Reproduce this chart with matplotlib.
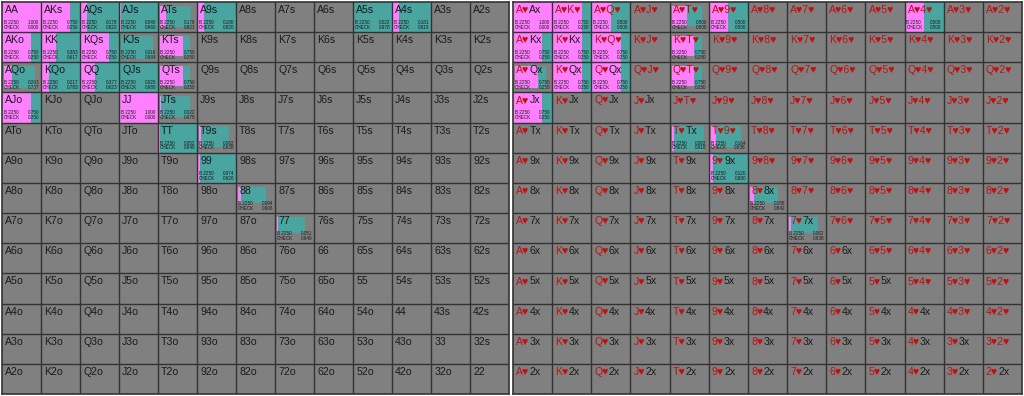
import matplotlib
matplotlib.use("Agg")
import matplotlib.pyplot as plt
from matplotlib.patches import Rectangle

plt.rcParams['font.family'] = ['Liberation Sans', 'DejaVu Sans']

ranks = ['A', 'K', 'Q', 'J', 'T', '9', '8', '7', '6', '5', '4', '3', '2']

# Left grid: active hands (row, col), bet freq, check freq, range weight
left_cells = [(0, 0), (0, 1), (0, 2), (0, 3), (0, 4), (0, 5), (0, 9), (0, 10),
              (1, 0), (1, 1), (1, 2), (1, 3), (1, 4),
              (2, 0), (2, 1), (2, 2), (2, 3), (2, 4),
              (3, 0), (3, 3), (3, 4),
              (4, 4), (4, 5), (5, 5), (6, 6), (7, 7)]
left_bet = [1.000, 0.750, 0.178, 0.040, 0.179, 0.180, 0.022, 0.181,
            0.750, 0.383, 0.750, 0.016, 0.750,
            0.263, 0.217, 0.377, 0.020, 0.750,
            0.750, 1.000, 0.022,
            0.052, 0.062, 0.074, 0.094, 0.051]
left_check = [0.000, 0.250, 0.822, 0.960, 0.821, 0.820, 0.978, 0.819,
              0.250, 0.617, 0.250, 0.984, 0.250,
              0.737, 0.783, 0.623, 0.980, 0.250,
              0.250, 0.000, 0.978,
              0.948, 0.938, 0.926, 0.906, 0.949]
left_weight = [1, 1, 1, 1, 0.85, 1, 1, 1,
               1, 1, 1, 0.9, 0.8,
               0.85, 1, 1, 1, 0.8,
               1, 1, 0.8,
               1, 0.8, 1, 0.65, 0.65]

# Right grid
right_cells = [(0, 0), (0, 1), (0, 2), (0, 4), (0, 5), (0, 10),
               (1, 0), (1, 1), (1, 2), (1, 4),
               (2, 0), (2, 1), (2, 2), (2, 4),
               (3, 0),
               (4, 4), (4, 5), (5, 5), (6, 6), (7, 7)]
right_bet = [1.000, 0.750, 0.500, 0.500, 0.500, 0.500,
             0.750, 0.750, 0.750, 0.750,
             0.750, 0.750, 0.750, 0.750,
             0.750,
             0.082, 0.164, 0.120, 0.158, 0.062]
right_check = [0.000, 0.250, 0.500, 0.500, 0.500, 0.500,
               0.250, 0.250, 0.250, 0.250,
               0.250, 0.250, 0.250, 0.250,
               0.250,
               0.918, 0.836, 0.880, 0.842, 0.938]
right_weight = [1, 1, 1, 0.8, 1, 1,
                1, 1, 1, 0.8,
                0.85, 1, 1, 0.8,
                1,
                0.95, 0.8, 1, 0.65, 0.65]

GRAY = '#808080'
PINK = '#ff80ff'
TEAL = '#4aa49f'
LINE = '#333333'
DARK = '#1a1a1a'
RED = '#c01010'

fig = plt.figure(figsize=(10.24, 3.96), dpi=100)
fig.patch.set_facecolor('white')

W, H = 1024, 396
axL = fig.add_axes([2 / W, 2 / H, 507 / W, 392 / H])
axR = fig.add_axes([513 / W, 2 / H, 509 / W, 392 / H])


def setup(ax):
    ax.set_xlim(0, 13)
    ax.set_ylim(13, 0)
    ax.set_facecolor(GRAY)
    ax.set_xticks([])
    ax.set_yticks([])
    for s in ax.spines.values():
        s.set_color(LINE)
        s.set_linewidth(1.2)
    for k in range(1, 13):
        ax.axvline(k, color=LINE, lw=1.0, zorder=3)
        ax.axhline(k, color=LINE, lw=1.0, zorder=3)


def draw_bar(ax, r, c, bet, chk, w):
    if w >= 1:
        x0, y0, bw, bh = c, r, 1.0, 1.0
    else:
        x0, y0, bw, bh = c + 0.05, r + 0.12, 0.5 + 0.35 * w, 0.85 * w
    ax.add_patch(Rectangle((x0, y0), bw * bet, bh, color=PINK, lw=0, zorder=1))
    ax.add_patch(Rectangle((x0 + bw * bet, y0), bw * (1 - bet), bh, color=TEAL, lw=0, zorder=1))
    fs = 3.3
    ax.text(c + 0.05, r + 0.68, 'B 2250', fontsize=fs, color=DARK, va='center', ha='left', zorder=4)
    ax.text(c + 0.95, r + 0.68, f'{bet:.3f}', fontsize=fs, color=DARK, va='center', ha='right', zorder=4)
    ax.text(c + 0.05, r + 0.84, 'CHECK', fontsize=fs, color=DARK, va='center', ha='left', zorder=4)
    ax.text(c + 0.95, r + 0.84, f'{chk:.3f}', fontsize=fs, color=DARK, va='center', ha='right', zorder=4)


setup(axL)
setup(axR)

for (r, c), b, ch, w in zip(left_cells, left_bet, left_check, left_weight):
    draw_bar(axL, r, c, b, ch, w)
for (r, c), b, ch, w in zip(right_cells, right_bet, right_check, right_weight):
    draw_bar(axR, r, c, b, ch, w)

FS = 7.6
for i in range(13):
    for j in range(13):
        if i == j:
            lab = ranks[i] + ranks[j]
        elif j > i:
            lab = ranks[i] + ranks[j] + 's'
        else:
            lab = ranks[j] + ranks[i] + 'o'
        axL.text(j + 0.08, i + 0.1, lab, fontsize=FS, color=DARK, va='top', ha='left', zorder=4)

        # right grid label pieces
        if i == j:
            parts = [(ranks[i] + '\u2665', RED), (ranks[i] + 'x', DARK)]
        elif j > i:
            parts = [(ranks[i] + '\u2665' + ranks[j] + '\u2665', RED)]
        else:
            parts = [(ranks[j] + '\u2665', RED), (ranks[i] + 'x', DARK)]
        t = axR.text(j + 0.08, i + 0.1, parts[0][0], fontsize=FS, color=parts[0][1],
                     va='top', ha='left', zorder=4)
        for txt, col in parts[1:]:
            t = axR.annotate(txt, xy=(1, 0), xycoords=t, fontsize=FS, color=col,
                             va='bottom', ha='left', zorder=4)

fig.savefig('out.png', dpi=100, facecolor='white')
